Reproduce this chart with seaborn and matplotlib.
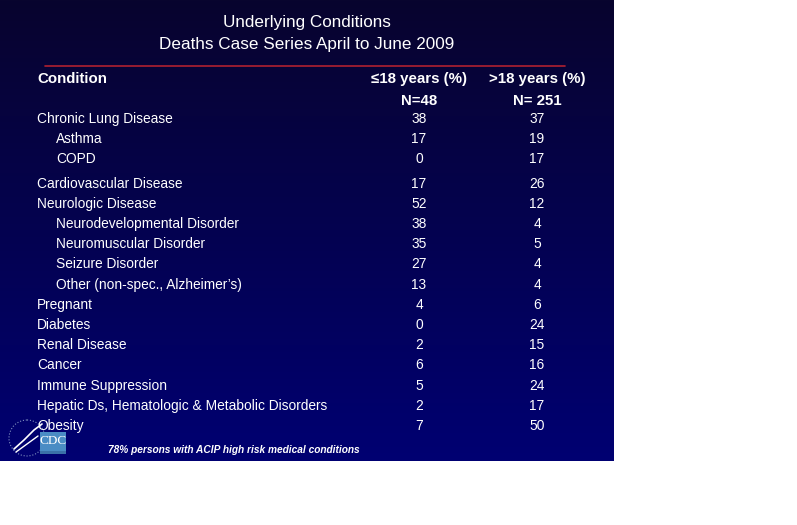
import matplotlib
matplotlib.use("Agg")
import matplotlib.pyplot as plt
import numpy as np
import pandas as pd
import seaborn as sns
from matplotlib.patches import Rectangle, Circle

sns.set_theme(style="white")
plt.rcParams["font.family"] = ["Liberation Sans", "DejaVu Sans"]

title_lines = ["Underlying Conditions", "Deaths Case Series April to June 2009"]
col_headers = ["Condition", "\u226418 years (%)", ">18 years (%)"]
n_labels = ["N=48", "N= 251"]
conditions = [
    "Chronic Lung Disease", "Asthma", "COPD", "Cardiovascular Disease",
    "Neurologic Disease", "Neurodevelopmental Disorder", "Neuromuscular Disorder",
    "Seizure Disorder", "Other (non-spec., Alzheimer\u2019s)", "Pregnant", "Diabetes",
    "Renal Disease", "Cancer", "Immune Suppression",
    "Hepatic Ds, Hematologic & Metabolic Disorders", "Obesity",
]
is_sub = [0, 1, 1, 0, 0, 1, 1, 1, 1, 0, 0, 0, 0, 0, 0, 0]
pct_young = [38, 17, 0, 17, 52, 38, 35, 27, 13, 4, 0, 2, 6, 5, 2, 7]
pct_adult = [37, 19, 17, 26, 12, 4, 5, 4, 4, 6, 24, 15, 16, 24, 17, 50]
footnote = "78% persons with ACIP high risk medical conditions"

df = pd.DataFrame({"condition": conditions, "sub": is_sub,
                   "young": pct_young, "adult": pct_adult})

W, H = 797, 525
SW, SH = 614, 461
fig = plt.figure(figsize=(W / 100, H / 100), dpi=100)
fig.patch.set_facecolor("white")
ax = fig.add_axes([0, 0, 1, 1])
ax.set_xlim(0, W)
ax.set_ylim(H, 0)
ax.axis("off")

# slide background: vertical gradient, dark navy at top to blue at bottom
top = np.array([0x08, 0x04, 0x2e]) / 255
bot = np.array([0x00, 0x00, 0x72]) / 255
t = np.linspace(0, 1, 256)[:, None]
grad = top + (bot - top) * t
ax.imshow(grad[:, None, :].repeat(2, axis=1), extent=[0, SW, SH, 0],
          aspect="auto", interpolation="bilinear", zorder=0)

ax.text(307, 22, title_lines[0], color="white", fontsize=12.3, ha="center", va="center")
ax.text(307, 44, title_lines[1], color="white", fontsize=12.3, ha="center", va="center")
ax.plot([45, 565], [66, 66], color="#b02030", lw=1.2)

c1, c2 = 419, 537
hdr = dict(color="white", fontsize=10.8, fontweight="bold", va="center")
ax.text(37, 79, col_headers[0], **hdr)
ax.text(c1, 79, col_headers[1], ha="center", **hdr)
ax.text(c2, 79, col_headers[2], ha="center", **hdr)
ax.text(c1, 101, n_labels[0], ha="center", **hdr)
ax.text(c2, 101, n_labels[1], ha="center", **hdr)

for i, row in df.iterrows():
    y = 119 + i * 20.2 + (4 if i >= 3 else 0)
    x = 56 if row["sub"] else 37
    ax.text(x, y, row["condition"], color="white", fontsize=9.9, va="center")
    ax.text(c1, y, str(row["young"]), color="white", fontsize=9.9, ha="center", va="center")
    ax.text(c2, y, str(row["adult"]), color="white", fontsize=9.9, ha="center", va="center")

ax.text(108, 450, footnote, color="white", fontsize=7.3, fontweight="bold",
        fontstyle="italic", va="center")

# CDC logo sketch
ax.add_patch(Circle((27, 438), 18, fill=False, ec="#8090c0", lw=0.8, ls=":"))
ax.plot([14, 24, 34, 42], [449, 440, 430, 424], color="white", lw=1.2)
ax.plot([16, 27, 38], [452, 444, 436], color="white", lw=1.0)
ax.add_patch(Rectangle((40, 432), 26, 19, fc="#4a8cc4", ec="none"))
ax.add_patch(Rectangle((40, 451), 26, 3, fc="#3a70a8", ec="none"))
ax.text(53, 441, "CDC", color="white", fontsize=9.5, family="Liberation Serif",
        ha="center", va="center")

fig.savefig("out.png", dpi=100)
